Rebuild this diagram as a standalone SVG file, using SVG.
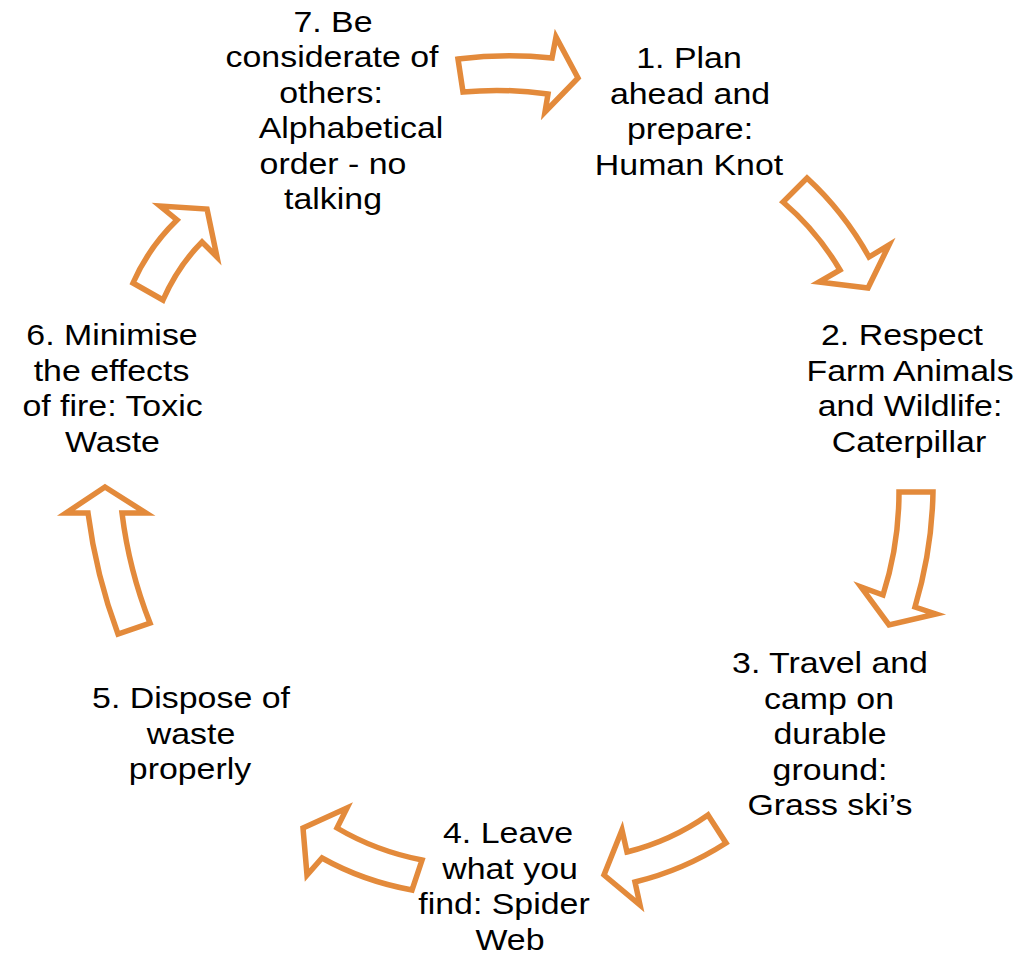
<svg xmlns="http://www.w3.org/2000/svg" width="1025" height="955" viewBox="0 0 1025 955">
<style>
.bg{fill:#ffffff}
.arr{fill:#ffffff;stroke:#E38A3B;stroke-width:5.5;stroke-linejoin:miter;stroke-miterlimit:6}
.t{font-family:"Liberation Sans",Arial,sans-serif;font-size:30px;fill:#000000;text-anchor:middle}
</style>
<rect class="bg" x="0" y="0" width="1025" height="955"/>
<g id="connectors">
<path id="arrow-7-1" class="arr" d="M458,59 Q505,53 552,58 L556,37 L578,78 L545,112 L548,94 Q505,88 463,92 Z"/>
<path id="arrow-1-2" class="arr" d="M807,178 Q844,212 869,257 L889,245 L868,288 L819,282 L840,270 Q817,231 783,202 Z"/>
<path id="arrow-2-3" class="arr" d="M899,492 L933,492 Q932,550 915,607 L936,614 L889,625 L861,587 L883,595 Q899,545 899,492 Z"/>
<path id="arrow-3-4" class="arr" d="M708,815 L726,843 Q684,870 635,882 L640,905 L604,875 L622,830 L627,852 Q671,841 708,815 Z"/>
<path id="arrow-4-5" class="arr" d="M303,828 L347,808 L337,828 Q376,851 422,860 L412,890 Q363,881 322,858 L307,875 Z"/>
<path id="arrow-5-6" class="arr" d="M105,487 L146,513 L122,513 Q129,570 150,623 L118,634 Q96,575 88,513 L66,513 Z"/>
<path id="arrow-6-7" class="arr" d="M207,209 L217,257 L202,242 Q178,266 163,300 L133,283 Q149,247 177,220 L160,206 Z"/>
</g>
<g id="node-1">
<text class="t" transform="translate(689,68) scale(1.13,1)">1. Plan</text>
<text class="t" transform="translate(690,103.5) scale(1.13,1)">ahead and</text>
<text class="t" transform="translate(690,139) scale(1.13,1)">prepare:</text>
<text class="t" transform="translate(689,174.5) scale(1.13,1)">Human Knot</text>
</g>
<g id="node-2">
<text class="t" transform="translate(902,345) scale(1.13,1)">2. Respect</text>
<text class="t" transform="translate(910,380.5) scale(1.13,1)">Farm Animals</text>
<text class="t" transform="translate(910,416) scale(1.13,1)">and Wildlife:</text>
<text class="t" transform="translate(909,451.5) scale(1.13,1)">Caterpillar</text>
</g>
<g id="node-3">
<text class="t" transform="translate(830,673) scale(1.13,1)">3. Travel and</text>
<text class="t" transform="translate(829,708.5) scale(1.13,1)">camp on</text>
<text class="t" transform="translate(830,744) scale(1.13,1)">durable</text>
<text class="t" transform="translate(830,779.5) scale(1.13,1)">ground:</text>
<text class="t" transform="translate(830,815) scale(1.13,1)">Grass ski’s</text>
</g>
<g id="node-4">
<text class="t" transform="translate(508,843) scale(1.13,1)">4. Leave</text>
<text class="t" transform="translate(510,878.5) scale(1.13,1)">what you</text>
<text class="t" transform="translate(504,914) scale(1.13,1)">find: Spider</text>
<text class="t" transform="translate(510,949.5) scale(1.13,1)">Web</text>
</g>
<g id="node-5">
<text class="t" transform="translate(191,708) scale(1.13,1)">5. Dispose of</text>
<text class="t" transform="translate(191,743.5) scale(1.13,1)">waste</text>
<text class="t" transform="translate(190,779) scale(1.13,1)">properly</text>
</g>
<g id="node-6">
<text class="t" transform="translate(112,345) scale(1.13,1)">6. Minimise</text>
<text class="t" transform="translate(111.5,380.5) scale(1.13,1)">the effects</text>
<text class="t" transform="translate(112.5,416) scale(1.13,1)">of fire: Toxic</text>
<text class="t" transform="translate(112.5,451.5) scale(1.13,1)">Waste</text>
</g>
<g id="node-7">
<text class="t" transform="translate(333,31.5) scale(1.13,1)">7. Be</text>
<text class="t" transform="translate(332,67) scale(1.13,1)">considerate of</text>
<text class="t" transform="translate(331,102.5) scale(1.13,1)">others:</text>
<text class="t" transform="translate(351,138) scale(1.13,1)">Alphabetical</text>
<text class="t" transform="translate(333,173.5) scale(1.13,1)">order - no</text>
<text class="t" transform="translate(333,209) scale(1.13,1)">talking</text>
</g>
</svg>
